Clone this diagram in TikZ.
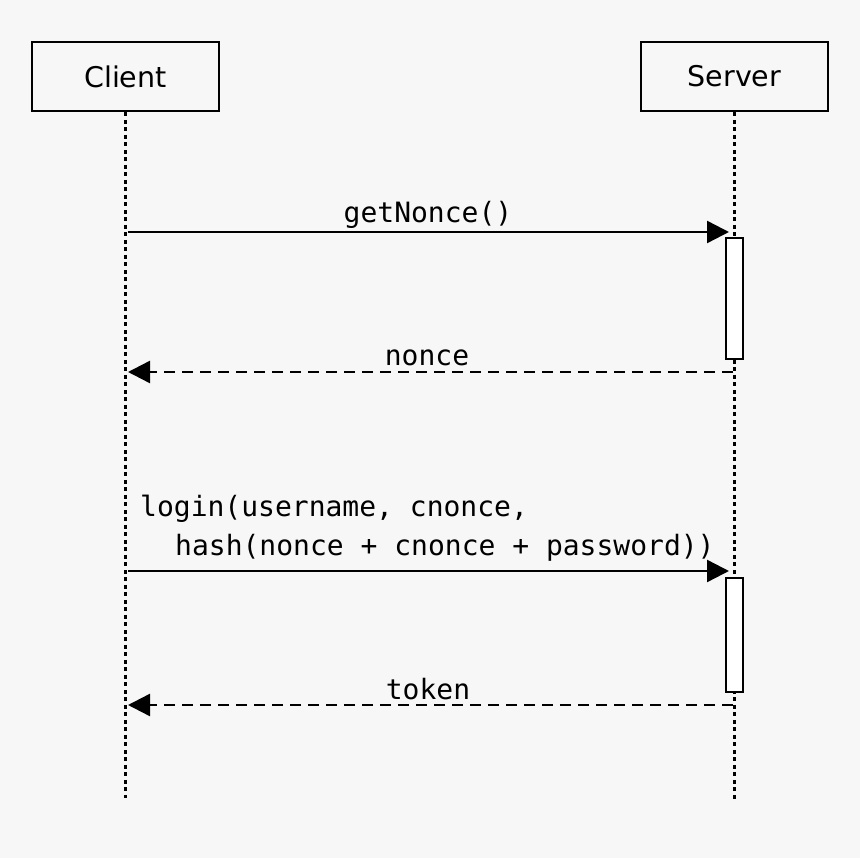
\documentclass[tikz,border=0pt]{standalone}
\usepackage{fontspec}
\setmainfont{DejaVu Sans}
\newfontfamily\monofnt{DejaVu Sans Mono}
\usetikzlibrary{arrows.meta}
\definecolor{bgc}{HTML}{F7F7F7}
\begin{document}
\begin{tikzpicture}[x=1pt,y=-1pt,
  actor/.style={draw=black,line width=2.6pt,fill=bgc,minimum width=187pt,minimum height=69pt,inner sep=0pt,font=\fontsize{28.5}{34}\selectfont},
  lifeline/.style={draw=black,line width=2.4pt,dash pattern=on 4pt off 3.5pt},
  activation/.style={draw=black,line width=2.4pt,fill=white,minimum width=17pt,inner sep=0pt},
  callmsg/.style={draw=black,line width=2.4pt,-{Triangle[length=22pt,width=22pt]}},
  retmsg/.style={draw=black,line width=2.4pt,dash pattern=on 11pt off 7pt,-{Triangle[length=22pt,width=22pt]}},
  msglabel/.style={font=\monofnt\fontsize{28}{37}\selectfont,inner sep=0pt,anchor=base}
]
\fill[bgc] (0,0) rectangle (860,858);
\useasboundingbox (0,0) rectangle (860,858);

\node[actor] (client) at (125.5,76.5) {Client};
\node[actor] (server) at (734.5,76.5) {Server};

\coordinate (cend) at (126,798);
\coordinate (send) at (733,800);
\draw[lifeline] (client.south) -- (client.south |- cend);
\draw[lifeline] (server.south) -- (server.south |- send);

% activations
\node[activation,minimum height=121pt] (act1) at (734.5,298.5) {};
\node[activation,minimum height=114pt] (act2) at (734.5,635) {};

% message 1
\coordinate (c1) at (128,232);
\coordinate (s1) at (729,232);
\draw[callmsg] (c1) -- (s1);
\node[msglabel] (l1) at (428,223) {getNonce()};

% return 1
\coordinate (s2) at (733,372);
\coordinate (c2) at (128,372);
\draw[retmsg] (s2) -- (c2);
\node[msglabel] (l2) at (427,366) {nonce};

% message 2
\coordinate (c3) at (128,571);
\coordinate (s3) at (729,571);
\draw[callmsg] (c3) -- (s3);
\node[msglabel,anchor=base west] (l3a) at (140,517) {login(username, cnonce,};
\node[msglabel,anchor=base west] (l3b) at (175,555) {hash(nonce + cnonce + password))};

% return 2
\coordinate (s4) at (733,705);
\coordinate (c4) at (128,705);
\draw[retmsg] (s4) -- (c4);
\node[msglabel] (l4) at (428,699) {token};
\end{tikzpicture}
\end{document}
